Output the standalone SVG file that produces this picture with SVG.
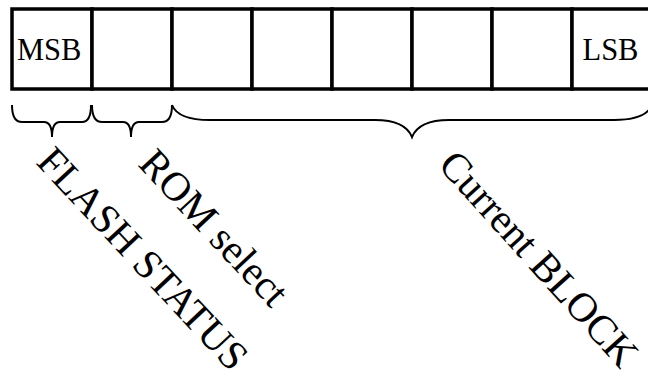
<svg xmlns="http://www.w3.org/2000/svg" width="648" height="383" viewBox="0 0 648 383">
<style>
.cell{fill:#fff;stroke:#000;stroke-width:3.5}
.brace{fill:none;stroke:#000;stroke-width:2}
.t{font-family:"Liberation Serif","Times New Roman",serif;fill:#000}
.s{font-size:30.5px}
.r{font-size:41px}
</style>
<rect width="648" height="383" fill="#fff"/>
<g id="register">
<g id="bit7"><rect class="cell" x="12" y="9" width="80" height="80"/><text class="t s" x="17" y="60">MSB</text></g>
<g id="bit6"><rect class="cell" x="92" y="9" width="80" height="80"/></g>
<g id="bit5"><rect class="cell" x="172" y="9" width="80" height="80"/></g>
<g id="bit4"><rect class="cell" x="252" y="9" width="80" height="80"/></g>
<g id="bit3"><rect class="cell" x="332" y="9" width="80" height="80"/></g>
<g id="bit2"><rect class="cell" x="412" y="9" width="80" height="80"/></g>
<g id="bit1"><rect class="cell" x="492" y="9" width="80" height="80"/></g>
<g id="bit0"><rect class="cell" x="572" y="9" width="80" height="80"/><text class="t s" x="582.5" y="60">LSB</text></g>
</g>
<g id="connectors">
<path class="brace" d="M12,105 Q12,122 22,122 L44,122 Q52,122 52,137 Q52,122 60,122 L82,122 Q91,122 91,105"/>
<path class="brace" d="M92,105 Q92,122 102,122 L123,122 Q131,122 131,137 Q131,122 139,122 L162,122 Q172,122 172,105"/>
<path class="brace" d="M172,105 Q178,120 210,120 L375,120 Q405,120 412,137 Q419,120 449,120 L614,120 Q646,120 652,105"/>
</g>
<g id="label-flash"><text class="t r" transform="translate(35,163) rotate(47)">FLASH STATUS</text></g>
<g id="label-rom"><text class="t r" transform="translate(137,165) rotate(47)">ROM select</text></g>
<g id="label-block"><text class="t r" transform="translate(437,166) rotate(48)">Current BLOCK</text></g>
</svg>
